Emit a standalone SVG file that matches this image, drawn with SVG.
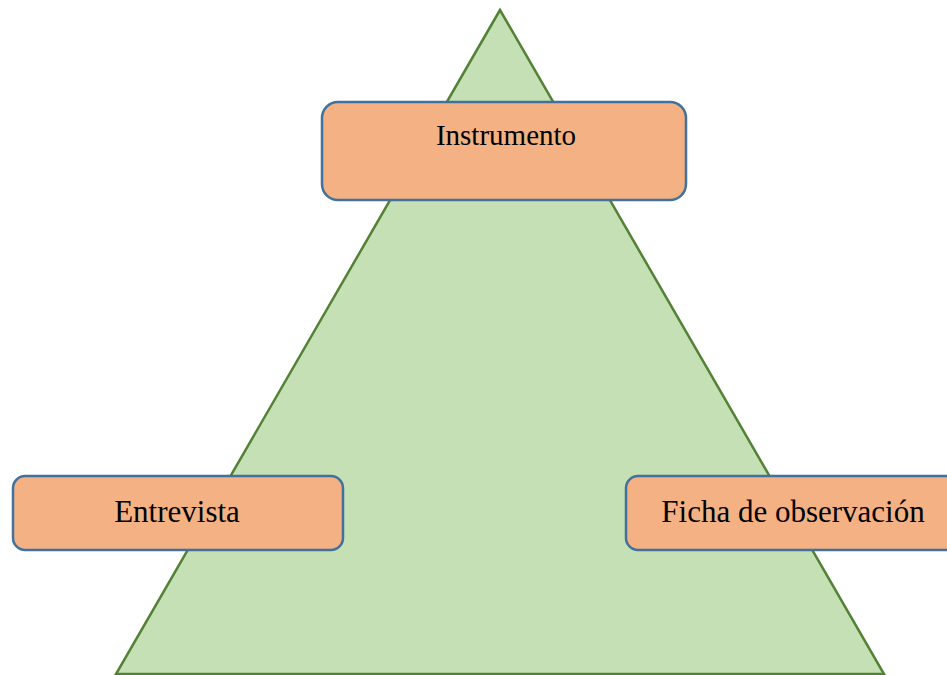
<svg xmlns="http://www.w3.org/2000/svg" width="947" height="675" viewBox="0 0 947 675">
<style>
.box{fill:#F4B183;stroke:#41719C;stroke-width:2.5}
.lbl{font-family:"Liberation Serif","Times New Roman",serif;fill:#000;text-anchor:middle}
</style>
<rect width="947" height="675" fill="#fff"/>
<g id="triangle">
<polygon points="500,10 116,674 884,674" fill="#C5E0B4" stroke="#538135" stroke-width="2.5" stroke-linejoin="miter"/>
</g>
<g id="connectors"></g>
<g id="instrumento">
<rect class="box" x="322" y="102" width="364" height="98" rx="16"/>
<text class="lbl" x="506" y="145" font-size="29">Instrumento</text>
</g>
<g id="entrevista">
<rect class="box" x="13" y="476" width="330" height="74" rx="12"/>
<text class="lbl" x="177" y="522" font-size="31">Entrevista</text>
</g>
<g id="ficha">
<rect class="box" x="626" y="476" width="340" height="74" rx="12"/>
<text class="lbl" x="793" y="522" font-size="31">Ficha de observación</text>
</g>
</svg>
